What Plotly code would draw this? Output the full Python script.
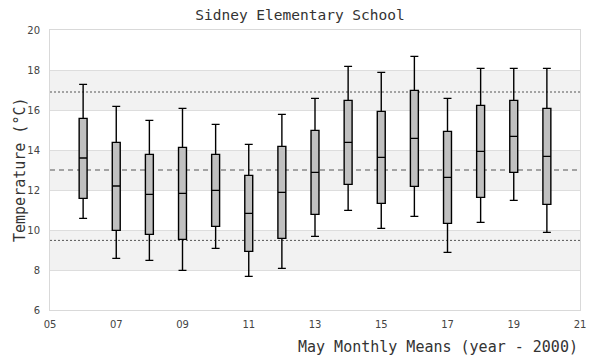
import plotly.graph_objects as go

years = [6, 7, 8, 9, 10, 11, 12, 13, 14, 15, 16, 17, 18, 19, 20]
lower = [10.58, 8.58, 8.48, 7.98, 9.08, 7.68, 8.08, 9.68, 10.98, 10.08, 10.68, 8.88, 10.38, 11.48, 9.88]
q1 = [11.58, 9.98, 9.78, 9.53, 10.18, 8.93, 9.58, 10.78, 12.28, 11.33, 12.18, 10.33, 11.63, 12.88, 11.28]
median = [13.6, 12.2, 11.78, 11.83, 11.98, 10.83, 11.88, 12.88, 14.38, 13.63, 14.58, 12.63, 13.93, 14.68, 13.68]
q3 = [15.58, 14.38, 13.78, 14.13, 13.78, 12.73, 14.18, 14.98, 16.48, 15.93, 16.98, 14.93, 16.23, 16.48, 16.08]
upper = [17.28, 16.18, 15.48, 16.08, 15.28, 14.28, 15.78, 16.58, 18.18, 17.88, 18.68, 16.58, 18.08, 18.08, 18.08]

mean_line = 13.0
upper_sd = 16.9
lower_sd = 9.48

xtick_vals = [5, 7, 9, 11, 13, 15, 17, 19, 21]
xtick_text = ["05", "07", "09", "11", "13", "15", "17", "19", "21"]
ytick_vals = [6, 8, 10, 12, 14, 16, 18, 20]
bands = [(8, 10), (12, 14), (16, 18)]

fig = go.Figure()
fig.add_trace(go.Box(
    x=years, q1=q1, median=median, q3=q3,
    lowerfence=lower, upperfence=upper,
    width=0.24, whiskerwidth=1,
    fillcolor="#c0c0c0",
    line=dict(color="black", width=1.4),
    boxpoints=False, showlegend=False, hoverinfo="skip",
))

shapes = []
for lo, hi in bands:
    shapes.append(dict(type="rect", xref="paper", yref="y", x0=0, x1=1, y0=lo, y1=hi,
                       fillcolor="#f2f2f2", line=dict(width=0), layer="below"))
shapes.append(dict(type="line", xref="paper", yref="y", x0=0, x1=1, y0=mean_line, y1=mean_line,
                   line=dict(color="#555555", width=1, dash="5px,4px"), layer="below"))
for v in (upper_sd, lower_sd):
    shapes.append(dict(type="line", xref="paper", yref="y", x0=0, x1=1, y0=v, y1=v,
                       line=dict(color="#555555", width=1, dash="2px,2px"), layer="below"))

mono = "DejaVu Sans Mono"
# page body has an 8px margin, so the figure is sized/offset to fit the 600x360 window
W, H = 592, 352
fig.update_layout(
    width=W, height=H,
    margin=dict(l=42, r=20, t=22, b=50),
    plot_bgcolor="white", paper_bgcolor="white",
    shapes=shapes,
    title=dict(text="Sidney Elementary School", x=292 / W, xref="container", xanchor="center",
               y=1 - 7 / H, yref="container", yanchor="middle",
               font=dict(family=mono, size=14.5, color="#333333")),
    xaxis=dict(range=[5, 21], tickvals=xtick_vals, ticktext=xtick_text,
               showgrid=False, zeroline=False, showline=True, mirror=True,
               linecolor="#d9d9d9", linewidth=1, ticks="", ticklabelstandoff=5,
               tickfont=dict(family="DejaVu Sans", size=10, color="#444444")),
    yaxis=dict(range=[6, 20], tickvals=ytick_vals,
               showgrid=True, gridcolor="#dddddd", gridwidth=1, zeroline=False,
               showline=True, mirror=True, linecolor="#d9d9d9", linewidth=1, ticks="",
               ticklabelstandoff=7,
               tickfont=dict(family="DejaVu Sans", size=10, color="#444444")),
    annotations=[
        dict(text="May Monthly Means (year - 2000)", xref="paper", yref="paper",
             x=1, y=-37 / 280, xanchor="right", yanchor="middle", showarrow=False,
             font=dict(family=mono, size=15, color="#333333")),
        dict(text="Temperature (°C)", xref="paper", yref="paper",
             x=-30 / 530, y=0.5, xanchor="center", yanchor="middle", textangle=-90,
             showarrow=False, font=dict(family=mono, size=15, color="#333333")),
    ],
)

fig.write_html("out.html")
